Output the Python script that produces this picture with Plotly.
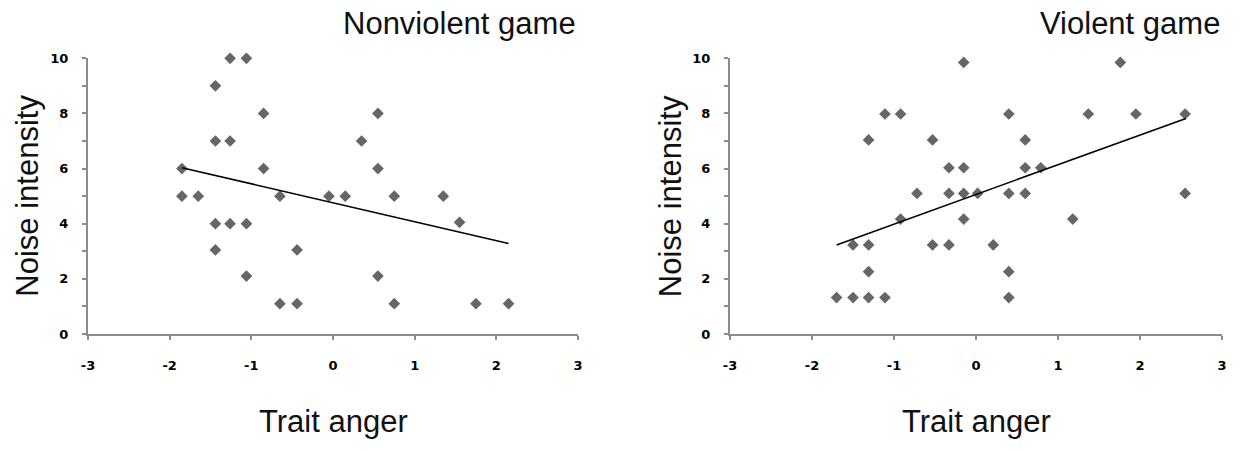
import plotly.graph_objects as go

W, H = 1247, 451

# ---- data ----
nonviolent_x = [-1.85, -1.85, -1.65, -1.44, -1.44, -1.44, -1.44, -1.26, -1.06, -1.26, -1.26, -1.06,
                -1.06, -0.85, -0.85, -0.65, -0.65, -0.44, -0.44, -0.05, 0.15, 0.35, 0.55, 0.55,
                0.55, 0.75, 0.75, 1.35, 1.55, 1.75, 2.15]
nonviolent_y = [6, 5, 5, 9, 7, 4, 3.05, 10, 10, 7, 4, 4,
                2.1, 8, 6, 5, 1.1, 1.1, 3.05, 5, 5, 7, 8, 6,
                2.1, 5, 1.1, 5, 4.05, 1.1, 1.1]
nonviolent_line_x = [-1.85, 2.15]
nonviolent_line_y = [6.03, 3.28]

violent_x = [-1.7, -1.5, -1.31, -1.11, -1.5, -1.31, -1.31, -1.31, -1.11, -0.92, -0.92, -0.72,
             -0.53, -0.53, -0.33, -0.33, -0.33, -0.15, -0.15, -0.15, -0.15, 0.02, 0.21, 0.4,
             0.4, 0.4, 0.4, 0.6, 0.6, 0.6, 0.79, 1.18, 1.37, 1.76, 1.95, 2.55, 2.55]
violent_y = [1.32, 1.32, 1.32, 1.32, 3.23, 3.23, 2.26, 7.04, 7.98, 7.98, 4.17, 5.1,
             7.04, 3.23, 6.03, 5.1, 3.23, 9.85, 6.03, 5.1, 4.17, 5.1, 3.23, 7.98,
             5.1, 2.26, 1.32, 7.04, 6.03, 5.1, 6.03, 4.17, 7.98, 9.85, 7.98, 7.98, 5.1]
violent_line_x = [-1.7, 2.56]
violent_line_y = [3.23, 7.82]

x_ticks = [-3, -2, -1, 0, 1, 2, 3]
x_ticktext = ["-3", "-2", "-1", "0", "1", "2", "3"]
y_ticks = list(range(0, 11))
y_ticktext = [str(v) if v % 2 == 0 else "" for v in y_ticks]

panel_titles = ["Nonviolent game", "Violent game"]
x_title = "Trait anger"
y_title = "Noise intensity"

# ---- layout geometry (pixels) ----
left_px = [(88, 578), (730, 1222)]
top_px, bottom_px = 58.3, 334

def px_x(x):
    return x / W

def px_y(y):
    return 1 - y / H

AXIS_COLOR = "#8c8c8c"
MARKER_COLOR = "#666666"
TICK_FONT = dict(family="DejaVu Sans", size=13, color="#000000")
LABEL_FONT = dict(family="Liberation Sans, Arial", size=31, color="#111111")

def bold(s):
    return "<b>" + s + "</b>" if s else ""

fig = go.Figure()

datasets = [
    (nonviolent_x, nonviolent_y, nonviolent_line_x, nonviolent_line_y),
    (violent_x, violent_y, violent_line_x, violent_line_y),
]

for i, (xs, ys, lx, ly) in enumerate(datasets):
    xa = "x" if i == 0 else "x2"
    ya = "y" if i == 0 else "y2"
    fig.add_trace(go.Scatter(x=xs, y=ys, mode="markers", xaxis=xa, yaxis=ya, cliponaxis=False,
                             marker=dict(symbol="diamond", size=9, color=MARKER_COLOR,
                                         line=dict(width=0)),
                             showlegend=False, hoverinfo="skip"))
    fig.add_trace(go.Scatter(x=lx, y=ly, mode="lines", xaxis=xa, yaxis=ya,
                             line=dict(color="#000000", width=1.6),
                             showlegend=False, hoverinfo="skip"))

def xaxis_cfg(dom, anchor):
    return dict(domain=dom, anchor=anchor, range=[-3, 3], tickmode="array", tickvals=x_ticks,
                ticktext=[bold(t) for t in x_ticktext],
                showgrid=False, zeroline=False, showline=True, linecolor=AXIS_COLOR, linewidth=2,
                ticks="outside", ticklen=4, tickwidth=1.5, tickcolor=AXIS_COLOR,
                tickfont=TICK_FONT, ticklabelstandoff=14, automargin=False, fixedrange=True)

def yaxis_cfg(anchor):
    return dict(domain=[px_y(bottom_px), px_y(top_px)], range=[0, 10], tickmode="array",
                tickvals=y_ticks, ticktext=[bold(t) for t in y_ticktext], anchor=anchor,
                showgrid=False, zeroline=False, showline=True, linecolor=AXIS_COLOR, linewidth=2,
                ticks="outside", ticklen=4, tickwidth=1.5, tickcolor=AXIS_COLOR,
                tickfont=TICK_FONT, ticklabelstandoff=11, automargin=False, fixedrange=True)

doms = [[px_x(a), px_x(b)] for a, b in left_px]

fig.update_layout(
    width=W, height=H,
    margin=dict(l=0, r=0, t=0, b=0),
    paper_bgcolor="white", plot_bgcolor="white",
    xaxis=xaxis_cfg(doms[0], "y"),
    yaxis=yaxis_cfg("x"),
    xaxis2=xaxis_cfg(doms[1], "y2"),
    yaxis2=yaxis_cfg("x2"),
)
fig.update_xaxes(tickfont_size=13, tickfont_family="DejaVu Sans", tickfont_color="#000000")
fig.update_yaxes(tickfont_size=13, tickfont_family="DejaVu Sans", tickfont_color="#000000")

annotations = []
ytitle_x = [27.5, 670]
for i, (a, b) in enumerate(left_px):
    annotations.append(dict(text=panel_titles[i], x=px_x(b), y=px_y(23), xref="paper", yref="paper",
                            xanchor="right", yanchor="middle", showarrow=False, font=LABEL_FONT))
    annotations.append(dict(text=x_title, x=px_x((a + b) / 2), y=px_y(421), xref="paper", yref="paper",
                            xanchor="center", yanchor="middle", showarrow=False, font=LABEL_FONT))
    annotations.append(dict(text=y_title, x=px_x(ytitle_x[i]), y=px_y((top_px + bottom_px) / 2),
                            xref="paper", yref="paper", xanchor="center", yanchor="middle",
                            textangle=-90, showarrow=False, font=LABEL_FONT))
fig.update_layout(annotations=annotations)

fig.write_html("out.html", config={"displayModeBar": False})
